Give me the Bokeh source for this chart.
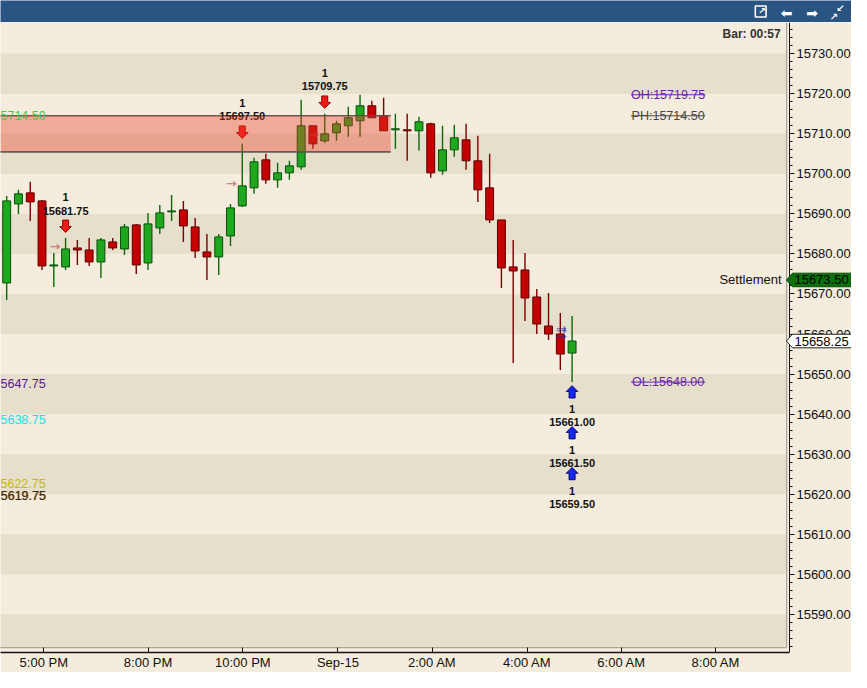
from bokeh.plotting import figure
from bokeh.models import (Range1d, FixedTicker, SingleIntervalTicker, NumeralTickFormatter,
                          BoxAnnotation, ColumnDataSource)
from bokeh.layouts import column
from bokeh.embed import file_html
from bokeh.resources import INLINE
from bokeh.core.properties import value

# ---------------- data ----------------
opens = [15672.75, 15692.50, 15695.25, 15693.25, 15677.00, 15676.75, 15681.50, 15681.00, 15678.00, 15683.00,
         15681.25, 15687.25, 15677.75, 15686.50, 15690.50, 15691.00, 15686.75, 15680.50, 15679.25, 15684.50,
         15692.00, 15696.50, 15703.50, 15698.50, 15700.25, 15701.75, 15712.00, 15708.25, 15710.25, 15712.00,
         15713.25, 15717.00, 15714.50, 15711.00, 15711.00, 15710.75, 15712.50, 15700.75, 15706.00, 15708.50,
         15703.25, 15696.50, 15688.50, 15676.75, 15676.00, 15669.25, 15662.00, 15660.00, 15655.25]
highs = [15694.50, 15696.00, 15698.00, 15693.50, 15680.25, 15684.00, 15683.50, 15684.00, 15684.00, 15684.00,
         15687.50, 15687.50, 15690.25, 15692.25, 15694.75, 15693.25, 15689.00, 15685.00, 15685.00, 15692.50,
         15707.50, 15704.00, 15705.00, 15702.75, 15703.25, 15718.50, 15712.00, 15715.00, 15713.25, 15716.75,
         15719.75, 15718.25, 15719.00, 15715.00, 15715.00, 15714.25, 15712.75, 15712.00, 15712.25, 15712.50,
         15709.50, 15705.00, 15688.50, 15683.50, 15680.25, 15671.25, 15670.25, 15665.25, 15664.50]
lows = [15668.50, 15690.00, 15688.25, 15676.00, 15671.75, 15676.00, 15677.25, 15677.00, 15674.00, 15681.00,
        15679.75, 15675.00, 15676.00, 15685.00, 15688.25, 15683.00, 15679.00, 15673.50, 15674.75, 15682.00,
        15691.75, 15695.00, 15697.50, 15696.50, 15698.50, 15701.00, 15706.25, 15707.75, 15708.25, 15709.25,
        15709.25, 15714.00, 15710.75, 15706.25, 15703.25, 15705.75, 15699.00, 15699.75, 15704.25, 15701.00,
        15693.00, 15687.75, 15671.50, 15652.75, 15663.25, 15660.00, 15658.50, 15651.00, 15648.00]
closes = [15693.25, 15695.00, 15693.00, 15677.00, 15677.25, 15681.25, 15681.00, 15678.00, 15683.50, 15681.50,
          15686.75, 15677.25, 15687.50, 15690.25, 15690.75, 15687.00, 15680.75, 15679.25, 15684.25, 15691.50,
          15697.00, 15703.00, 15698.50, 15700.25, 15702.00, 15712.00, 15707.50, 15710.00, 15712.50, 15714.00,
          15717.00, 15714.00, 15710.75, 15711.25, 15710.75, 15713.00, 15700.25, 15706.00, 15709.00, 15703.25,
          15696.00, 15688.50, 15676.50, 15675.75, 15669.00, 15662.50, 15660.00, 15655.00, 15658.25]

time_tick_bars = [3.15, 12.0, 20.05, 28.12, 36.12, 44.18, 52.2, 60.2]
time_tick_labels = ["5:00 PM", "8:00 PM", "10:00 PM", "Sep-15", "2:00 AM", "4:00 AM", "6:00 AM", "8:00 AM"]

sell_bars = [5, 20, 27]
sell_prices = [15681.75, 15697.50, 15709.75]
sell_qty = [1, 1, 1]
buy_bar = 48
buy_prices = [15661.00, 15661.50, 15659.50]
buy_qty = [1, 1, 1]

zone_top = 15714.50
zone_bottom = 15705.50
zone_end_bar = 32.6

left_levels = [15714.50, 15647.75, 15638.75, 15622.75, 15619.75, 15619.75]
left_level_colors = ["#4cc84c", "#5b1690", "#10e4f0", "#c4b80c", "#e8902a", "#262626"]

session_names = ["OH", "PH", "OL"]
session_levels = [15719.75, 15714.50, 15648.00]
session_colors = ["#6a1ea8", "#484848", "#6a1ea8"]
session_start_bar = 53.0
session_end_bar = 59.3

settlement = 15673.50
bar_timer = "Bar: 00:57"
band_bottoms = [15580, 15600, 15620, 15640, 15660, 15680, 15700, 15720]

# ---------------- geometry / styling ----------------
BG = "#f4ecdc"
BAND = "#e6dfcc"
HEADER = "#2a5482"
FONT = "Liberation Sans"

FIG_W, MAIN_H, HEAD_H, BOTTOM = 851, 650, 22, 18
FRAME_W, FRAME_H = FIG_W, MAIN_H - BOTTOM

x_start, x_end = -0.525, 71.72          # frame covers axis area too
plot_right, axis_x = 66.21, 66.45       # visible plot-area edge and price-axis position
y_start, y_end = 15580.46, 15737.8
plot_bottom = 15581.7
PPX = FRAME_W / (x_end - x_start)
PPY = FRAME_H / (y_end - y_start)

p = figure(width=FIG_W, height=MAIN_H, x_range=Range1d(x_start, x_end), y_range=Range1d(y_start, y_end),
           y_axis_location="right", output_backend="svg", toolbar_location=None,
           min_border_left=0, min_border_top=0, min_border_right=0, min_border_bottom=BOTTOM,
           background_fill_color=BG, border_fill_color=BG, outline_line_color=None)
p.grid.visible = False

for b in band_bottoms:
    p.add_layout(BoxAnnotation(bottom=max(b, plot_bottom), top=b + 10, right=plot_right,
                               fill_color=BAND, fill_alpha=1.0, line_color=None, level="underlay"))

# plot-area border
p.segment(x0=[plot_right, x_start - 1], x1=[plot_right, plot_right], y0=[plot_bottom, plot_bottom],
          y1=[y_end + 1, plot_bottom], line_color="#a6a698", line_width=1.2)

n = len(opens)
up = [c >= o for o, c in zip(opens, closes)]
src = ColumnDataSource(dict(
    x=list(range(n)), open=opens, high=highs, low=lows, close=closes,
    top=[max(o, c) for o, c in zip(opens, closes)],
    bottom=[min(o, c) for o, c in zip(opens, closes)],
    fill=["#1fa81f" if u else "#c40000" for u in up],
    edge=["#0a4f0a" if u else "#5c0000" for u in up],
    wick=["#0a6a0a" if u else "#7c0000" for u in up],
))
p.segment(x0="x", y0="low", x1="x", y1="high", line_color="wick", line_width=1.4, source=src)
p.vbar(x="x", width=0.67, top="top", bottom="bottom", fill_color="fill", line_color="edge",
       line_width=1, source=src)

# entry markers
p.text(x=sell_bars, y=sell_prices, text=["→"] * len(sell_bars), x_offset=-11,
       text_font=value("DejaVu Sans"), text_font_size="13px", text_color="#b04848", text_alpha=0.75,
       text_align="center", text_baseline="middle")
p.text(x=[buy_bar] * len(buy_prices), y=buy_prices, text=["→"] * len(buy_prices), x_offset=-11,
       text_font=value("DejaVu Sans"), text_font_size="13px", text_color="#2a2aa0", text_alpha=0.7,
       text_align="center", text_baseline="middle")

# zone
p.add_layout(BoxAnnotation(right=zone_end_bar, top=zone_top, bottom=zone_bottom,
                           fill_color="#f03c28", fill_alpha=0.375, line_color=None))
p.segment(x0=[x_start - 1] * 2, x1=[zone_end_bar] * 2, y0=[zone_top, zone_bottom],
          y1=[zone_top, zone_bottom], line_color="#4a4a4a", line_width=1.6, line_alpha=0.9)

# block arrow outline (pixels, centred, pointing down; y up positive)
ARROW = [(-3, 6.2), (3, 6.2), (3, -0.3), (5.8, -0.3), (0, -6.2), (-5.8, -0.3), (-3, -0.3)]


def arrow(bx, by, centre_px, flip):
    cy = by + centre_px / PPY
    xs = [bx + dx / PPX for dx, dy in ARROW]
    ys = [cy + (-dy if flip else dy) / PPY for dx, dy in ARROW]
    return xs, ys


# sell signals
sx, sy = [], []
for b in sell_bars:
    xs, ys = arrow(b, highs[b], 11.7, False)
    sx.append(xs)
    sy.append(ys)
p.patches(xs=sx, ys=sy, fill_color="#f01a1a", line_color="#a00000", line_width=1)
sell_src = ColumnDataSource(dict(
    x=sell_bars, y=[highs[b] for b in sell_bars],
    price=[f"{v:.2f}" for v in sell_prices], qty=[str(q) for q in sell_qty]))
p.text(x="x", y="y", text="price", y_offset=-27.4, source=sell_src,
       text_font=value(FONT), text_font_style="bold", text_font_size="11px", text_color="#111111",
       text_align="center", text_baseline="middle")
p.text(x="x", y="y", text="qty", y_offset=-41, source=sell_src,
       text_font=value(FONT), text_font_style="bold", text_font_size="11px", text_color="#111111",
       text_align="center", text_baseline="middle")

# buy signals
k = len(buy_prices)
bx_, by_ = [], []
for i in range(k):
    xs, ys = arrow(buy_bar, lows[buy_bar], -(9.8 + 41 * i), True)
    bx_.append(xs)
    by_.append(ys)
p.patches(xs=bx_, ys=by_, fill_color="#1428f0", line_color="#08086e", line_width=1)
buy_src = ColumnDataSource(dict(
    x=[buy_bar] * k, y=[lows[buy_bar]] * k,
    q_off=[26.7 + 41 * i for i in range(k)], p_off=[40.3 + 41 * i for i in range(k)],
    price=[f"{v:.2f}" for v in buy_prices], qty=[str(q) for q in buy_qty]))
p.text(x="x", y="y", text="qty", y_offset="q_off", source=buy_src,
       text_font=value(FONT), text_font_style="bold", text_font_size="11px", text_color="#111111",
       text_align="center", text_baseline="middle")
p.text(x="x", y="y", text="price", y_offset="p_off", source=buy_src,
       text_font=value(FONT), text_font_style="bold", text_font_size="11px", text_color="#111111",
       text_align="center", text_baseline="middle")

# left-edge level labels (the leading digit is hidden by the chart edge in the original)
p.text(x=[x_start] * len(left_levels), y=left_levels, text=[f"{v:.2f}"[1:] for v in left_levels],
       x_offset=[0, 0, 0, 0, 1, 0], text_color=left_level_colors,
       text_font=value(FONT), text_font_size="12.5px", text_align="left", text_baseline="middle",
       level="overlay")

# session levels on the right
for name, lvl, col in zip(session_names, session_levels, session_colors):
    p.segment(x0=[session_start_bar], x1=[session_end_bar], y0=[lvl], y1=[lvl],
              line_color=col, line_width=1)
    p.text(x=[(session_start_bar + session_end_bar) / 2], y=[lvl], text=[f"{name}:{lvl:.2f}"],
           text_color=col, text_font=value(FONT), text_font_size="12.5px",
           text_align="center", text_baseline="middle")

# settlement text and bar timer
p.text(x=[plot_right], y=[settlement], text=["Settlement"], x_offset=-5, text_color="#111111",
       text_font=value(FONT), text_font_size="13px", text_align="right", text_baseline="middle")
p.text(x=[plot_right], y=[y_end], text=[bar_timer], x_offset=-6, y_offset=11, text_color="#333333",
       text_font=value(FONT), text_font_style="bold", text_font_size="12px",
       text_align="right", text_baseline="middle")

# axes
p.yaxis.fixed_location = axis_x
p.yaxis.ticker = SingleIntervalTicker(interval=10, num_minor_ticks=5)
p.yaxis.formatter = NumeralTickFormatter(format="0.00")
p.yaxis.major_label_text_font = FONT
p.yaxis.major_label_text_font_size = "13px"
p.yaxis.major_label_text_color = "#111111"
p.yaxis.axis_line_color = "#111111"
p.yaxis.major_tick_line_color = "#111111"
p.yaxis.minor_tick_line_color = "#111111"
p.yaxis.major_tick_in = 0
p.yaxis.major_tick_out = 5
p.yaxis.minor_tick_in = 0
p.yaxis.minor_tick_out = 3
p.yaxis.major_label_standoff = 2

p.xaxis.ticker = FixedTicker(ticks=time_tick_bars, minor_ticks=[])
p.xaxis.major_label_overrides = {t: l for t, l in zip(time_tick_bars, time_tick_labels)}
p.xaxis.bounds = (x_start, axis_x)
p.xaxis.major_label_text_font = FONT
p.xaxis.major_label_text_font_size = "13px"
p.xaxis.major_label_text_color = "#111111"
p.xaxis.axis_line_color = "#111111"
p.xaxis.axis_line_width = 1.5
p.xaxis.major_tick_line_color = "#111111"
p.xaxis.major_tick_in = 5
p.xaxis.major_tick_out = 0
p.xaxis.major_label_standoff = 2

# price tags on the price axis
tag_prices = [settlement, closes[-1]]
tag_fill = ["#0f6e0f", "#ffffff"]
tag_line = ["#0a4a0a", "#222222"]
half_h = 6.8
tx, ty = [], []
for pr in tag_prices:
    tx.append([axis_x - 3 / PPX, axis_x + 3 / PPX, x_end + 1, x_end + 1, axis_x + 3 / PPX])
    ty.append([pr, pr + half_h / PPY, pr + half_h / PPY, pr - half_h / PPY, pr - half_h / PPY])
p.patches(xs=tx, ys=ty, fill_color=tag_fill, line_color=tag_line, line_width=1, level="overlay")
p.text(x=[axis_x] * 2, y=tag_prices, text=[f"{v:.2f}" for v in tag_prices], x_offset=5,
       text_color="#000000", text_font=value(FONT), text_font_size="13px",
       text_align="left", text_baseline="middle", level="overlay")

# ---------------- header bar ----------------
h = figure(width=FIG_W, height=HEAD_H, x_range=Range1d(0, 867), y_range=Range1d(22, 0),
           output_backend="svg", toolbar_location=None, min_border=0,
           x_axis_location=None, y_axis_location=None,
           background_fill_color=HEADER, border_fill_color=HEADER, outline_line_color=None)
h.grid.visible = False
h.rect(x=[774.5], y=[11], width=11, height=11, fill_color=None, line_color="white", line_width=1.6)
h.text(x=[775.5], y=[10.5], text=["↗"], text_color="white", text_font=value("DejaVu Sans"),
       text_font_size="9px", text_font_style="bold", text_align="center", text_baseline="middle")
h.text(x=[801, 827], y=[12, 12], text=["⬅", "➡"], text_color="white",
       text_font=value("DejaVu Sans"), text_font_size="14px", text_align="center",
       text_baseline="middle")
h.text(x=[856, 849], y=[8, 16], text=["↙", "↗"], text_color="white",
       text_font=value("DejaVu Sans"), text_font_size="10px", text_font_style="bold",
       text_align="center", text_baseline="middle")

layout = column(h, p, spacing=0)
open("out.html", "w").write(file_html(layout, INLINE))
